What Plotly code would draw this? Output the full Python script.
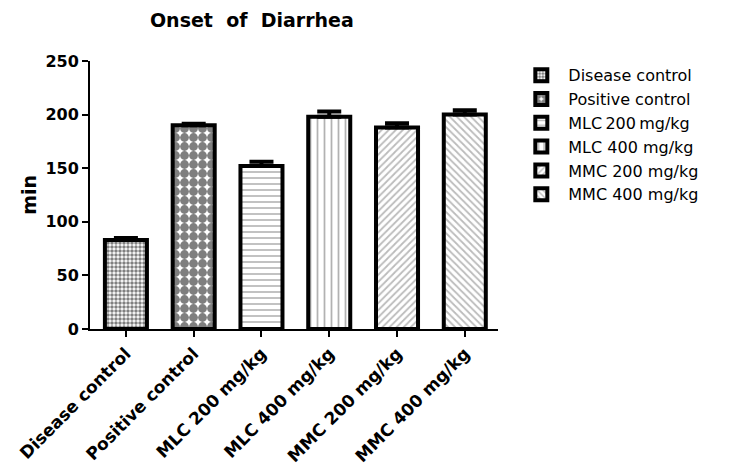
import plotly.graph_objects as go

categories = ["Disease control", "Positive control", "MLC 200 mg/kg",
              "MLC 400 mg/kg", "MMC 200 mg/kg", "MMC 400 mg/kg"]
legend_names = ["Disease control", "Positive control", "MLC\u2009200\u2009mg/kg",
                "MLC 400 mg/kg", "MMC 200 mg/kg", "MMC 400 mg/kg"]
values = [83, 190, 152, 198, 188, 200]
errors = [2, 1.5, 4, 5, 4, 4]
y_ticks = [0, 50, 100, 150, 200, 250]

patterns = [
    dict(shape=".", size=4, solidity=0.6, fgcolor="black", bgcolor="white"),
    dict(shape=".", size=9, solidity=0.75, fgcolor="black", bgcolor="white"),
    dict(shape="-", size=6, solidity=0.3, fgcolor="#777777", bgcolor="white"),
    dict(shape="|", size=7, solidity=0.25, fgcolor="#666666", bgcolor="white"),
    dict(shape="/", size=5, solidity=0.35, fgcolor="#777777", bgcolor="white"),
    dict(shape="\\", size=5, solidity=0.35, fgcolor="#777777", bgcolor="white"),
]

FONT = "DejaVu Sans, Liberation Sans, Arial, sans-serif"

fig = go.Figure()
for i, cat in enumerate(categories):
    fig.add_trace(go.Bar(
        x=[i], y=[values[i]], name=legend_names[i],
        width=0.62,
        marker=dict(color="white", line=dict(color="black", width=4),
                    pattern=patterns[i]),
        error_y=dict(type="data", array=[errors[i]], arrayminus=[0],
                     symmetric=False, color="black", thickness=4, width=12),
    ))

fig.update_layout(
    width=728, height=466,
    margin=dict(l=82, r=238, t=53, b=145, autoexpand=False),
    paper_bgcolor="white", plot_bgcolor="white",
    font=dict(family=FONT, color="black"),
    barmode="overlay",
    showlegend=True,
    title=dict(text="<b>Onset  of  Diarrhea</b>", x=0.335, xanchor="center",
               xref="container", yref="container",
               y=0.973, yanchor="middle", font=dict(size=19, family=FONT)),
    legend=dict(x=1.04, xanchor="left", y=1.01, yanchor="top",
                font=dict(size=16, family=FONT), tracegroupgap=0, itemwidth=44,
                bgcolor="rgba(0,0,0,0)"),
    xaxis=dict(range=[-0.53, 5.49], tickmode="array",
               tickvals=list(range(len(categories))), ticktext=categories,
               tickangle=-45, ticks="outside", ticklen=6, tickwidth=2,
               tickcolor="black", showline=True, linewidth=2, linecolor="black",
               showgrid=False, zeroline=False, automargin=False,
               tickfont=dict(size=17, family=FONT, weight="bold")),
    yaxis=dict(range=[0, 250], tickvals=y_ticks, ticks="outside", ticklen=6,
               tickwidth=2, tickcolor="black", showline=True, linewidth=2,
               linecolor="black", showgrid=False, zeroline=False, automargin=False,
               tickfont=dict(size=16, family=FONT, weight="bold")),
    annotations=[dict(text="<b>min</b>", xref="paper", yref="paper",
                      x=-0.15, y=0.5, xanchor="center", yanchor="middle",
                      textangle=-90, showarrow=False,
                      font=dict(size=19, family=FONT))],
)

fig.write_html("out.html")
